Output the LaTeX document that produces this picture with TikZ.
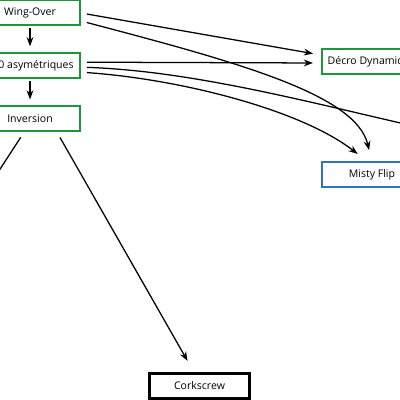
\documentclass[tikz,border=0pt]{standalone}
\usepackage{fontspec}
\setmainfont{Open Sans}
\usetikzlibrary{arrows.meta, positioning, calc}
\definecolor{movegreen}{RGB}{30,150,60}
\definecolor{flipblue}{RGB}{45,115,200}

\begin{document}
\begin{tikzpicture}[
    x=0.25mm, y=-0.25mm,
    node distance=6.6mm,
    font=\fontsize{7.5}{9}\selectfont,
    move/.style={draw=movegreen, line width=1.4pt, fill=white, minimum width=25mm, minimum height=6.2mm, inner sep=1mm},
    flip/.style={move, draw=flipblue},
    figure/.style={move, draw=black, line width=1.8pt},
    link/.style={line width=0.9pt, -{Stealth[length=2.3mm, width=1.7mm]}, shorten <=1.5mm, shorten >=2mm},
    seq/.style={link, shorten <=0.5mm, shorten >=1.5mm}
]
    \useasboundingbox (0,0) rectangle (400,400);
    \clip (0,0) rectangle (400,400);

    % Nodes
    \node[move] (wing) at (30,12.5) {Wing-Over};
    \node[move, below=of wing] (asym) {360 asymétriques};
    \node[move, below=of asym] (inv) {Inversion};
    \node[move, anchor=west] (decro) at (321,61.5) {Décro Dynamique};
    \node[flip, below=21.5mm of decro.south west, anchor=north west] (misty) {Misty Flip};
    \node[figure] (cork) at (199.5,386) {Corkscrew};
    \coordinate (offright) at (450,134);
    \coordinate (offleft) at (-20,200);

    % Links
    \draw[seq] (wing) -- (asym);
    \draw[seq] (asym) -- (inv);
    \draw[link] ($(wing.east)+(0,0.5)$) -- ($(decro.west)+(0,-6.5)$);
    \draw[link] ($(wing.east)+(0,8.5)$) .. controls +(160,42) and +(-15,-63) .. ($(misty.north)+(-1,-3)$);
    \draw[link] ($(asym.east)+(0,-3.5)$) -- ($(decro.west)+(0,1.5)$);
    \draw[link] ($(asym.east)+(0,1.5)$) .. controls +(120,4) and +(-120,-26) .. (offright);
    \draw[link] ($(asym.east)+(0,6.5)$) .. controls +(100,7) and +(-63,-49) .. ($(misty.north)+(-8,-2)$);
    \draw[link, shorten >=3mm] ($(inv.south)+(27,0)$) -- ($(cork.north)+(-6,-1)$);
    \draw[link] ($(inv.south)+(-6,0)$) -- (offleft);
\end{tikzpicture}
\end{document}
